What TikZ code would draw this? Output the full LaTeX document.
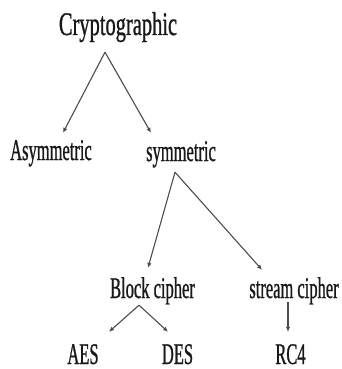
\documentclass[tikz,border=0pt]{standalone}
\usepackage{fontspec}
\setmainfont{Liberation Serif}[FakeStretch=0.55, FakeBold=0.8]
\newfontfamily\rootfont{Liberation Serif}[FakeStretch=0.62, FakeBold=0.8]
\usepackage{tikz}
\usetikzlibrary{arrows.meta,positioning,calc}
\tikzset{
    treelabel/.style={inner sep=0pt, anchor=base, text height=21pt, text depth=0pt, text=black!90, font=\fontsize{30}{30}\selectfont},
    treeroot/.style={treelabel, font=\rootfont\fontsize{33}{33}\selectfont},
    treearrow/.style={-{Latex[length=5pt, width=4.5pt]}, draw=black!70, line width=1.1pt}
}
\begin{document}
\begin{tikzpicture}[x=1pt, y=-1pt]
        \useasboundingbox (0,0) rectangle (341,369);
        \node[treeroot] (crypto) at (118,35) {Cryptographic};
        \node[treelabel] (asym) at (51,160) {Asymmetric};
        \node[treelabel] (sym) at (181,161) {symmetric};
        \node[treelabel] (block) at (152.5,298) {Block cipher};
        \node[treelabel] (stream) at (294,298) {stream cipher};
        \node[treelabel] (aes) at (83,364) {AES};
        \node[treelabel] (des) at (177.5,364) {DES};
        \node[treelabel] (rc4) at (290.5,364) {RC4};
        \coordinate (cryptofork) at ([xshift=-13pt,yshift=-17pt]crypto.south);
        \coordinate (symfork) at ([xshift=-6pt,yshift=-11pt]sym.south);
        \coordinate (blockfork) at ([xshift=-13.5pt,yshift=-7pt]block.south);
        \coordinate (streamfork) at ([xshift=-6pt,yshift=-4pt]stream.south);
        \draw[treearrow] (cryptofork) -- ([xshift=12pt,yshift=6pt]asym.north);
        \draw[treearrow] (cryptofork) -- ([xshift=-30pt,yshift=7pt]sym.north);
        \draw[treearrow] (symfork) -- ([xshift=-4.5pt,yshift=9pt]block.north);
        \draw[treearrow] (symfork) -- ([xshift=-32pt,yshift=7pt]stream.north);
        \draw[treearrow] (blockfork) -- ([xshift=26pt,yshift=11pt]aes.north);
        \draw[treearrow] (blockfork) -- ([xshift=-9.5pt,yshift=11pt]des.north);
        \draw[treearrow] (streamfork) -- ([xshift=-2.5pt,yshift=11pt]rc4.north);
    \end{tikzpicture}
\end{document}
